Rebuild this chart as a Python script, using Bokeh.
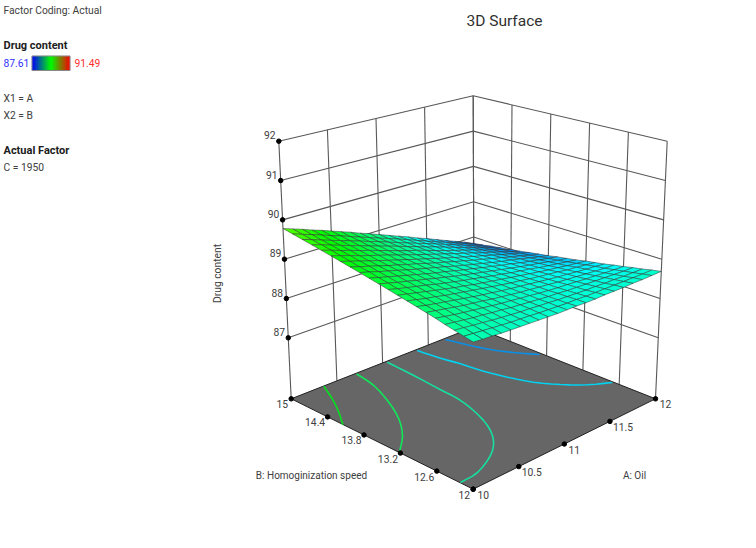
import numpy as np
from bokeh.plotting import figure
from bokeh.embed import file_html
from bokeh.resources import INLINE
from bokeh.core.properties import value

A_TICKS = [10, 10.5, 11, 11.5, 12]
B_TICKS = [12, 12.6, 13.2, 13.8, 14.4, 15]
Z_TICKS = [87, 88, 89, 90, 91, 92]
Z_FLOOR = 85.45
Z_TOP = 92
Z_MIN, Z_MAX = 87.61, 91.49

# Surface heights, in hundredths above 87; rows A = 10..12, columns B = 12..15 (21 x 21)
SURFACE_CENTI = [
 [177,182,187,192,198,203,208,213,218,223,228,233,238,243,248,253,258,263,268,273,278],
 [175,180,185,189,194,199,203,208,213,217,222,227,232,236,241,246,251,256,260,265,270],
 [174,178,182,186,190,195,199,203,208,212,216,221,225,230,234,239,243,248,252,257,262],
 [172,176,180,183,187,191,195,199,203,207,211,215,219,223,227,231,236,240,244,249,253],
 [171,174,177,181,184,187,191,194,198,202,205,209,213,216,220,224,228,232,236,240,245],
 [170,172,175,178,181,184,187,190,193,196,200,203,206,210,213,217,221,224,228,232,236],
 [169,171,173,176,178,181,183,186,188,191,194,197,200,203,206,210,213,216,220,223,227],
 [168,170,171,173,175,177,179,182,184,186,189,191,194,197,199,202,205,208,211,214,218],
 [167,168,170,171,173,174,176,178,179,181,183,186,188,190,192,195,197,200,203,205,208],
 [166,167,168,169,170,171,172,174,175,177,178,180,182,183,185,187,189,192,194,196,199],
 [166,166,167,167,168,168,169,170,171,172,173,174,175,177,178,180,182,183,185,187,189],
 [166,165,165,165,165,166,166,166,167,167,168,169,169,170,171,172,174,175,176,178,179],
 [165,165,164,164,163,163,163,163,163,163,163,163,163,164,164,165,165,166,167,168,169],
 [165,164,163,162,161,161,160,159,159,158,158,158,157,157,157,157,157,158,158,158,159],
 [166,164,162,161,160,158,157,156,155,154,153,152,151,151,150,150,149,149,149,148,148],
 [166,164,162,160,158,156,154,153,151,150,148,147,145,144,143,142,141,140,139,138,138],
 [166,164,161,159,156,154,152,150,147,145,143,141,140,138,136,134,133,131,130,128,127],
 [167,164,161,158,155,152,149,146,144,141,139,136,134,131,129,127,124,122,120,118,116],
 [167,164,160,157,153,150,147,144,140,137,134,131,128,125,122,119,116,113,110,108,105],
 [168,164,160,156,152,148,145,141,137,133,129,126,122,118,115,111,108,104,100,97,94],
 [169,165,160,156,151,147,142,138,134,129,125,121,116,112,108,103,99,95,91,86,82],
]

CONTOUR_COLORS = ["#00e21e", "#10e65a", "#14e0a0", "#00d2f0", "#0a8fe6"]
CONTOUR_A = [
 [10.354,10.319,10.284,10.248,10.208,10.166,10.123,10.081,10.038,9.996],
 [10.706,10.693,10.680,10.659,10.625,10.583,10.538,10.493,10.445,10.394,10.338,10.279,10.216,10.148,10.076,10.005],
 [11.036,11.030,11.024,11.017,11.007,10.996,10.987,10.983,10.980,10.973,10.958,10.939,10.914,10.884,10.849,10.809,10.766,10.718,10.665,10.607,10.545,10.474,10.389,10.296,10.210,10.137,10.071,10.004],
 [11.363,11.372,11.382,11.393,11.405,11.418,11.431,11.440,11.449,11.461,11.476,11.494,11.514,11.536,11.560,11.589,11.622,11.660,11.701,11.743,11.789,11.836,11.886,11.938,11.990],
 [11.670,11.686,11.702,11.719,11.739,11.760,11.784,11.809,11.837,11.868,11.903,11.941,11.979],
]
CONTOUR_B = [
 [14.996,14.896,14.797,14.697,14.597,14.497,14.401,14.312,14.227,14.143],
 [14.987,14.871,14.755,14.631,14.491,14.344,14.202,14.069,13.941,13.819,13.703,13.594,13.491,13.396,13.309,13.222],
 [14.978,14.823,14.668,14.511,14.343,14.173,14.024,13.912,13.820,13.723,13.610,13.492,13.370,13.240,13.107,12.982,12.868,12.762,12.665,12.578,12.500,12.428,12.357,12.292,12.245,12.224,12.220,12.216],
 [14.976,14.860,14.745,14.636,14.543,14.456,14.363,14.256,14.142,14.029,13.923,13.818,13.713,13.606,13.499,13.396,13.300,13.207,13.119,13.033,12.951,12.876,12.813,12.757,12.700],
 [14.973,14.879,14.784,14.689,14.592,14.494,14.401,14.314,14.231,14.147,14.061,13.974,13.886],
]

# Camera: screen positions of the plot box corners, indexed [A=10/12][B=12/15]
FLOOR_PX = np.array([[[472.7, 488.7], [290.7, 398.3]], [[655, 398.3], [473.5, 326.5]]])
TOP_PX = np.array([[[472.7, 198.5], [278.3, 140.7]], [[666.7, 140.7], [472.7, 95.3]]])


def proj(a, b, z):
    a, b, z = np.broadcast_arrays(np.asarray(a, float), np.asarray(b, float), np.asarray(z, float))
    u = (a - 10) / 2
    v = (b - 12) / 3
    w = (z - Z_FLOOR) / (Z_TOP - Z_FLOOR)

    def bil(C):
        return (((1 - u) * (1 - v))[..., None] * C[0, 0] + ((1 - u) * v)[..., None] * C[0, 1]
                + (u * (1 - v))[..., None] * C[1, 0] + (u * v)[..., None] * C[1, 1])

    r = bil(FLOOR_PX) * (1 - w)[..., None] + bil(TOP_PX) * w[..., None]
    return r[..., 0], r[..., 1]


def palette(t):
    t = np.clip(t, 0, 1)
    stops = [(0, 0, 255), (0, 255, 255), (0, 255, 0), (255, 255, 0), (255, 0, 0)]
    x = t * 4
    i = min(int(x), 3)
    f = x - i
    c = [int(round(stops[i][k] * (1 - f) + stops[i + 1][k] * f)) for k in range(3)]
    return "#%02x%02x%02x" % tuple(c)


p = figure(width=740, height=532, x_range=(0, 740), y_range=(532, 0), toolbar_location=None,
           output_backend="svg", min_border=0)
p.axis.visible = False
p.grid.visible = False
p.outline_line_color = None

# Walls
xs, ys = [], []


def seg(q0, q1):
    x, y = proj(*zip(q0, q1))
    xs.append(list(x))
    ys.append(list(y))


for z in Z_TICKS:
    seg((10, 15, z), (12, 15, z))
    seg((12, 15, z), (12, 12, z))
for a in A_TICKS:
    seg((a, 15, Z_FLOOR), (a, 15, Z_TOP))
for b in B_TICKS:
    seg((12, b, Z_FLOOR), (12, b, Z_TOP))
p.multi_line(xs, ys, line_color="#585858", line_width=1.1)

# Floor with contours
fx, fy = proj([10, 10, 12, 12], [15, 12, 12, 15], Z_FLOOR)
p.patch(list(fx), list(fy), fill_color="#666666", line_color="#222222", line_width=1)
for ca, cb_, col in zip(CONTOUR_A, CONTOUR_B, CONTOUR_COLORS):
    x, y = proj(ca, cb_, Z_FLOOR)
    p.line(list(x), list(y), line_color=col, line_width=1.6)

# Surface, painted from far to near
Z = 87 + np.array(SURFACE_CENTI) / 100
N = Z.shape[0] - 1
As = np.linspace(10, 12, N + 1)
Bs = np.linspace(12, 15, N + 1)
px, py, cols = [], [], []
for i in range(N - 1, -1, -1):
    for j in range(N - 1, -1, -1):
        aa = [As[i], As[i + 1], As[i + 1], As[i]]
        bb = [Bs[j], Bs[j], Bs[j + 1], Bs[j + 1]]
        zz = [Z[i, j], Z[i + 1, j], Z[i + 1, j + 1], Z[i, j + 1]]
        x, y = proj(aa, bb, zz)
        px.append(list(x))
        py.append(list(y))
        cols.append(palette((np.mean(zz) + 0.10 - Z_MIN) / (Z_MAX - Z_MIN)))
p.patches(px, py, fill_color=cols, line_color="#303030", line_width=0.5)

FONT = value("Roboto")


def T(x, y, s, color="#404040", size="10.3px", align="center", bold=False, angle=0):
    p.text([x], [y], text=[s], text_font=FONT, text_font_size=size, text_color=color, text_align=align,
           text_baseline="middle", text_font_style="bold" if bold else "normal", angle=angle)


# Ticks and tick labels
tx, ty = proj(10, 15, np.array(Z_TICKS, float))
p.scatter(tx, ty, size=4.5, color="black")
for z, x, y in zip(Z_TICKS, tx, ty):
    T(x - 9, y - 6, str(z))
ax, ay = proj(np.array(A_TICKS, float), 12, Z_FLOOR)
p.scatter(ax, ay, size=4.5, color="black")
for a, x, y in zip(A_TICKS, ax, ay):
    T(x + (13 if a in (10.5, 11.5) else 10), y + 5.5, str(a))
bx, by = proj(10, np.array(B_TICKS, float), Z_FLOOR)
p.scatter(bx, by, size=4.5, color="black")
for b, x, y in zip(B_TICKS, bx, by):
    T(x - (9 if b in (12, 15) else 12.5), y + 5.5, str(b))

T(504, 20, "3D Surface", size="15.5px", color="#303030")
T(3, 10, "Factor Coding: Actual", align="left")
T(3, 45, "Drug content", align="left", bold=True, color="#202020", size="11px")
T(3, 62.5, "87.61", color="#3030ff", align="left")
T(74, 62.5, "91.49", color="#ff3030", align="left")
T(3, 98, "X1 = A", align="left")
T(3, 115, "X2 = B", align="left")
T(3, 149.5, "Actual Factor", align="left", bold=True, color="#202020", size="11px")
T(3, 167, "C = 1950", align="left")
T(311, 475, "B: Homoginization speed", size="10px")
T(634, 475, "A: Oil", size="10px")
T(217, 273, "Drug content", angle=np.pi / 2)

# Colour bar
STEPS = 38
edges = np.linspace(31.5, 69.5, STEPS + 1)
bar = []
for i in range(STEPS):
    t = (i + 0.5) / STEPS
    c = (0, int(510 * t), int(255 * (1 - 2 * t))) if t < 0.5 else (int(255 * (2 * t - 1)), int(255 * (2 - 2 * t)), 0)
    bar.append("#%02x%02x%02x" % c)
p.quad(left=edges[:-1], right=edges[1:], top=55.5, bottom=70, fill_color=bar, line_color=bar, line_width=0.2)
p.quad(left=[31.5], right=[69.5], top=[55.5], bottom=[70], fill_color=None, line_color="#888888", line_width=1)

open("out.html", "w").write(file_html(p, INLINE))
